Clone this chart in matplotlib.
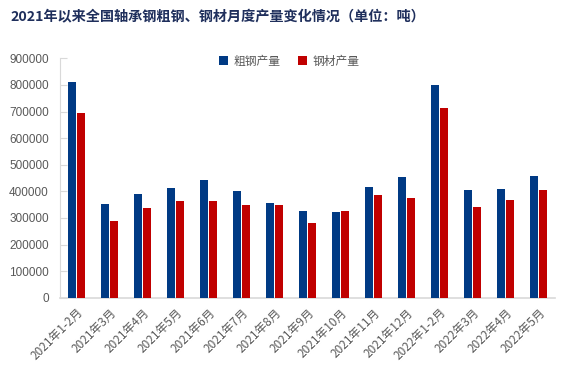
import matplotlib
matplotlib.use("Agg")
import matplotlib.pyplot as plt
import numpy as np

plt.rcParams['font.family'] = ['Noto Sans CJK SC', 'DejaVu Sans']

categories = ["2021年1-2月", "2021年3月", "2021年4月", "2021年5月", "2021年6月",
              "2021年7月", "2021年8月", "2021年9月", "2021年10月", "2021年11月",
              "2021年12月", "2022年1-2月", "2022年3月", "2022年4月", "2022年5月"]
crude_steel = [810000, 352000, 390000, 412000, 442000, 401000, 356000, 326000,
               322000, 416000, 454000, 799000, 405000, 408000, 457000]
steel_products = [694000, 288000, 337000, 363000, 363000, 350000, 348000, 281000,
                  326000, 386000, 375000, 713000, 341000, 367000, 405000]
yticks = [0, 100000, 200000, 300000, 400000, 500000, 600000, 700000, 800000, 900000]

fig = plt.figure(figsize=(5.70, 3.89), dpi=100)
ax = fig.add_axes([60/570, 1-297.7/389, 495/570, (297.7-58.3)/389])

x = np.arange(len(categories))
w = 0.22
ax.bar(x - 0.135, crude_steel, width=w, color='#003A84', label='粗钢产量', zorder=3)
ax.bar(x + 0.135, steel_products, width=w, color='#C00000', label='钢材产量', zorder=3)

ax.set_xlim(-0.5, len(categories) - 0.5)
ax.set_ylim(0, 900000)
ax.set_yticks(yticks)
ax.set_yticklabels([str(v) for v in yticks], fontsize=8.5, color='#595959',
                   family=['Liberation Sans', 'DejaVu Sans'])
ax.set_xticks(x)
ax.set_xticklabels(categories, rotation=45, ha='right', rotation_mode='anchor',
                   fontsize=8.5, color='#595959')
ax.tick_params(axis='x', length=0, pad=6)
ax.tick_params(axis='y', direction='in', length=5, color='#d9d9d9', pad=8)

for s in ['top', 'right']:
    ax.spines[s].set_visible(False)
ax.spines['left'].set_color('#d9d9d9')
ax.spines['bottom'].set_color('#d9d9d9')
ax.spines['bottom'].set_linewidth(1.2)

leg = ax.legend(loc='upper left', bbox_to_anchor=(148/495, 1.058), ncol=2, frameon=False,
                fontsize=8.5, handlelength=0.8, handleheight=0.8, handletextpad=0.5,
                columnspacing=1.4, labelcolor='#595959')

fig.text(10/570, 1-17/389, "2021年以来全国轴承钢粗钢、钢材月度产量变化情况（单位：吨）",
         fontsize=10.2, fontweight='bold', color='#1F2F5C', va='center', ha='left')

fig.savefig('out.png', dpi=100)
